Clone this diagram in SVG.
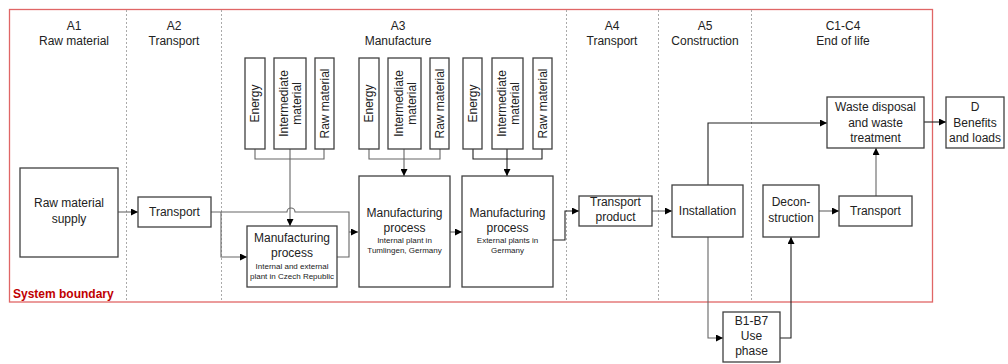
<svg xmlns="http://www.w3.org/2000/svg" width="1008" height="364" viewBox="0 0 1008 364">
<defs>
<marker id="arr" viewBox="0 0 8 8" refX="8" refY="4" markerWidth="7" markerHeight="7" markerUnits="userSpaceOnUse" orient="auto">
<path d="M0,0 L8,4 L0,8 z" fill="#000"/>
</marker>
</defs>
<style>
text{font-family:"Liberation Sans",Arial,sans-serif;fill:#222;}
.h{font-size:12px;text-anchor:middle;}
.t{font-size:12px;text-anchor:middle;}
.s{font-size:8px;text-anchor:middle;}
.box{fill:#fff;stroke:#404040;stroke-width:1.3;}
.div{stroke:#aaa;stroke-width:1;stroke-dasharray:2,2;fill:none;}
.c{fill:none;stroke:#666;stroke-width:1.1;}
.cb{fill:none;stroke:#222;stroke-width:1.1;}
.a{marker-end:url(#arr);}
</style>
<rect width="1008" height="364" fill="#fff"/>
<g id="boundary">
<rect x="9.5" y="9.5" width="923" height="292.5" fill="none" stroke="#e06666" stroke-width="1.3"/>
<line class="div" x1="126.5" y1="10" x2="126.5" y2="302"/>
<line class="div" x1="221.5" y1="10" x2="221.5" y2="302"/>
<line class="div" x1="566.5" y1="10" x2="566.5" y2="302"/>
<line class="div" x1="658.5" y1="10" x2="658.5" y2="302"/>
<line class="div" x1="751.5" y1="10" x2="751.5" y2="302"/>
<text x="13" y="298" style="font-size:12px;font-weight:bold;fill:#c00000">System boundary</text>
</g>
<g id="headers">
<text class="h" x="74" y="30">A1</text><text class="h" x="74" y="45">Raw material</text>
<text class="h" x="174" y="30">A2</text><text class="h" x="174" y="45">Transport</text>
<text class="h" x="398" y="30">A3</text><text class="h" x="398" y="45">Manufacture</text>
<text class="h" x="612" y="30">A4</text><text class="h" x="612" y="45">Transport</text>
<text class="h" x="705" y="30">A5</text><text class="h" x="705" y="45">Construction</text>
<text class="h" x="843" y="30">C1-C4</text><text class="h" x="843" y="45">End of life</text>
</g>
<g id="connectors">
<path class="c a" d="M118,212 H138"/>
<path class="c a" d="M211,212 H221 V257 H247"/>
<path class="c" d="M221,212 H287 A4,4 0 0 1 295,212 H349 V257 H337"/>
<path class="c a" d="M349,232 H358"/>
<path class="c" d="M255,149 V159 H324 V149"/>
<path class="c a" d="M290,149 V226"/>
<path class="c" d="M369,149 V159 H440 V149"/>
<path class="c a" d="M404,149 V176"/>
<path class="cb" d="M473,149 V159 H542 V149"/>
<path class="cb a" d="M507,149 V176"/>
<path class="c a" d="M450,232 H462"/>
<path class="cb a" d="M553,240 H565 V211 H579"/>
<path class="c a" d="M652,211 H672"/>
<path class="cb a" d="M708,185 V123 H827"/>
<path class="cb a" d="M924,122 H946"/>
<path class="c a" d="M708,237 V338 H723"/>
<path class="cb a" d="M780,338 H791 V237"/>
<path class="c a" d="M819,211 H839"/>
<path class="c a" d="M876,196 V148"/>
</g>
<g id="n-raw-supply"><rect class="box" x="20" y="168" width="98" height="89"/><text class="t" x="69" y="207">Raw material</text><text class="t" x="69" y="223">supply</text></g>
<g id="n-transport-a2"><rect class="box" x="138" y="197" width="73" height="30"/><text class="t" x="174.5" y="216">Transport</text></g>
<g id="n-in1-energy"><rect class="box" x="245" y="58" width="20" height="91"/><text class="t" transform="translate(255,103.5) rotate(-90)" y="4">Energy</text></g>
<g id="n-in1-inter"><rect class="box" x="274" y="58" width="32" height="91"/><text class="t" transform="translate(290,103.5) rotate(-90)" y="-2">Intermediate</text><text class="t" transform="translate(290,103.5) rotate(-90)" y="11">material</text></g>
<g id="n-in1-raw"><rect class="box" x="315" y="58" width="19" height="91"/><text class="t" transform="translate(324.5,103.5) rotate(-90)" y="4">Raw material</text></g>
<g id="n-in2-energy"><rect class="box" x="359" y="58" width="20" height="91"/><text class="t" transform="translate(369,103.5) rotate(-90)" y="4">Energy</text></g>
<g id="n-in2-inter"><rect class="box" x="388" y="58" width="33" height="91"/><text class="t" transform="translate(404.5,103.5) rotate(-90)" y="-2">Intermediate</text><text class="t" transform="translate(404.5,103.5) rotate(-90)" y="11">material</text></g>
<g id="n-in2-raw"><rect class="box" x="430" y="58" width="19" height="91"/><text class="t" transform="translate(439.5,103.5) rotate(-90)" y="4">Raw material</text></g>
<g id="n-in3-energy"><rect class="box" x="463" y="58" width="19" height="91"/><text class="t" transform="translate(472.5,103.5) rotate(-90)" y="4">Energy</text></g>
<g id="n-in3-inter"><rect class="box" x="492" y="58" width="31" height="91"/><text class="t" transform="translate(507.5,103.5) rotate(-90)" y="-2">Intermediate</text><text class="t" transform="translate(507.5,103.5) rotate(-90)" y="11">material</text></g>
<g id="n-in3-raw"><rect class="box" x="533" y="58" width="19" height="91"/><text class="t" transform="translate(542.5,103.5) rotate(-90)" y="4">Raw material</text></g>
<g id="n-manuf-czech"><rect class="box" x="247" y="226" width="90" height="61"/><text class="t" x="292" y="242">Manufacturing</text><text class="t" x="292" y="257">process</text><text class="s" x="292" y="269">Internal and external</text><text class="s" x="292" y="279">plant in Czech Republic</text></g>
<g id="n-manuf-tumlingen"><rect class="box" x="359" y="176" width="91" height="111"/><text class="t" x="404.5" y="217">Manufacturing</text><text class="t" x="404.5" y="232">process</text><text class="s" x="404.5" y="243">Internal plant in</text><text class="s" x="404.5" y="253">Tumlingen, Germany</text></g>
<g id="n-manuf-external"><rect class="box" x="462" y="176" width="91" height="111"/><text class="t" x="507.5" y="217">Manufacturing</text><text class="t" x="507.5" y="232">process</text><text class="s" x="507.5" y="243">External plants in</text><text class="s" x="507.5" y="253">Germany</text></g>
<g id="n-transport-product"><rect class="box" x="579" y="196" width="73" height="30"/><text class="t" x="615.5" y="206">Transport</text><text class="t" x="615.5" y="221">product</text></g>
<g id="n-installation"><rect class="box" x="672" y="185" width="71" height="52"/><text class="t" x="707.5" y="215">Installation</text></g>
<g id="n-use"><rect class="box" x="723" y="312" width="57" height="50"/><text class="t" x="751.5" y="325">B1-B7</text><text class="t" x="751.5" y="340">Use</text><text class="t" x="751.5" y="355">phase</text></g>
<g id="n-decon"><rect class="box" x="763" y="185" width="56" height="52"/><text class="t" x="791" y="206">Decon-</text><text class="t" x="791" y="222">struction</text></g>
<g id="n-transport-eol"><rect class="box" x="839" y="196" width="73" height="30"/><text class="t" x="875.5" y="215">Transport</text></g>
<g id="n-waste"><rect class="box" x="827" y="97" width="97" height="51"/><text class="t" x="875.5" y="111">Waste disposal</text><text class="t" x="875.5" y="127">and waste</text><text class="t" x="875.5" y="142">treatment</text></g>
<g id="n-d"><rect class="box" x="946" y="97" width="58" height="51"/><text class="t" x="975" y="111">D</text><text class="t" x="975" y="127">Benefits</text><text class="t" x="975" y="142">and loads</text></g>
</svg>
